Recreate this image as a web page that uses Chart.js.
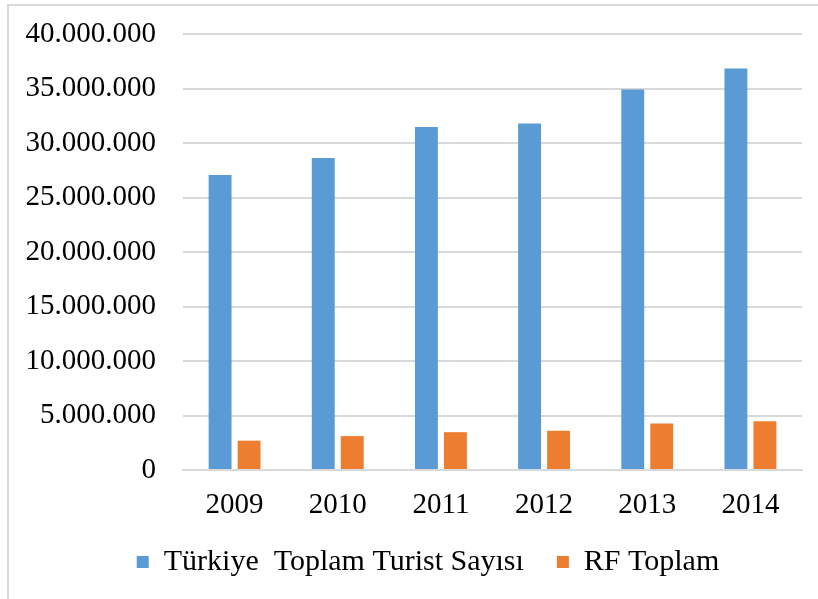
<!DOCTYPE html>
<html>
<head>
<meta charset="utf-8">
<script src="https://cdn.jsdelivr.net/npm/chart.js@4"></script>
<style>
    html, body { margin: 0; padding: 0; background: #fff; }
    #wrap { width: 818px; height: 599px; position: relative; }
</style>
</head>
<body>
<div id="wrap"><canvas id="my_canvas" width="818" height="599"></canvas></div>
<script>
// values
var years = ['2009', '2010', '2011', '2012', '2013', '2014'];
var turkiye_total = [27070000, 28630000, 31460000, 31780000, 34910000, 36840000];
var rf_total = [2690000, 3110000, 3470000, 3600000, 4270000, 4480000];
var y_ticks = [0, 5000000, 10000000, 15000000, 20000000, 25000000, 30000000, 35000000, 40000000];

var serif = '"Liberation Serif", "Times New Roman", serif';

function dotted(v) {
    return String(v).replace(/\B(?=(\d{3})+(?!\d))/g, '.');
}

// light gray frame on top and left, like the cropped excel box
var framePlugin = {
    id: 'frame',
    beforeDraw: function(chart) {
        var c = chart.ctx;
        c.save();
        c.fillStyle = '#ffffff';
        c.fillRect(0, 0, chart.width, chart.height);
        c.strokeStyle = '#d9d9d9';
        c.lineWidth = 2;
        c.beginPath();
        c.moveTo(8, chart.height);
        c.lineTo(8, 5);
        c.lineTo(chart.width, 5);
        c.stroke();
        c.restore();
    }
};

// nudge the legend a bit right and up, excel puts it off-centre
var legendShift = {
    id: 'legendShift',
    afterLayout: function(chart) {
        var lg = chart.legend;
        lg.left += 27; lg.right += 27;
        lg.top -= 18; lg.bottom -= 18;
    }
};

var chartdata = {
    labels: years,
    datasets: [
        {
            label: 'Türkiye  Toplam Turist Sayısı',
            backgroundColor: '#5B9BD5',
            data: turkiye_total
        },
        {
            label: 'RF Toplam',
            backgroundColor: '#ED7D31',
            data: rf_total
        }
    ]
};

var ctx = document.getElementById('my_canvas');

var barGraph = new Chart(ctx, {
    type: 'bar',
    data: chartdata,
    plugins: [framePlugin, legendShift],
    options: {
        responsive: false,
        animation: false,
        devicePixelRatio: 1,
        categoryPercentage: 0.562,
        barPercentage: 0.79,
        layout: {
            padding: { top: 34, right: 16, bottom: -6, left: 0 }
        },
        plugins: {
            tooltip: { enabled: false },
            legend: {
                position: 'bottom',
                labels: {
                    font: { family: serif, size: 30 },
                    color: '#000',
                    boxWidth: 12,
                    boxHeight: 12,
                    padding: 33
                }
            }
        },
        scales: {
            x: {
                grid: { display: false },
                border: { color: '#d9d9d9', width: 2 },
                ticks: {
                    font: { family: serif, size: 29, lineHeight: '4px' },
                    color: '#000',
                    padding: 25
                }
            },
            y: {
                min: 0,
                max: 40000000,
                afterBuildTicks: function(scale) {
                    scale.ticks = y_ticks.map(function(v) { return { value: v }; });
                },
                afterFit: function(scale) {
                    scale.width = 183;
                },
                grid: {
                    color: '#d9d9d9',
                    lineWidth: 2,
                    drawTicks: true,
                    tickLength: 17,
                    tickColor: 'rgba(0,0,0,0)'
                },
                border: { display: false },
                ticks: {
                    font: { family: serif, size: 29 },
                    color: '#000',
                    padding: 10,
                    callback: function(v) { return dotted(v); }
                }
            }
        }
    }
});
</script>
</body>
</html>
